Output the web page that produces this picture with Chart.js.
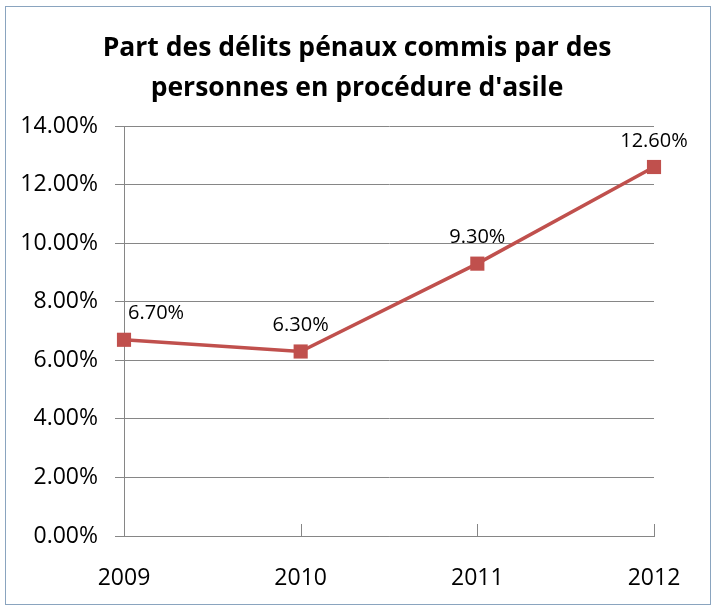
<!DOCTYPE html>
<html>
<head>
<meta charset="utf-8">
<script src="https://cdn.jsdelivr.net/npm/chart.js@4/dist/chart.umd.min.js"></script>
<style>
  html, body { margin: 0; padding: 0; background: #fff; }
  #wrap { position: relative; width: 716px; height: 610px; }
  #frame { position: absolute; left: 5px; top: 6px; width: 704px; height: 597px; border: 1px solid #8aa4bf; pointer-events: none; }
</style>
</head>
<body>
<div id="wrap">
  <canvas id="c" width="716" height="610"></canvas>
  <div id="frame"></div>
</div>
<script>
const years = ["2009", "2010", "2011", "2012"];
const shares = [6.7, 6.3, 9.3, 12.6];
const titleLines = ["Part des délits pénaux commis par des", "personnes en procédure d'asile"];

const FONT = "'Open Sans', 'Noto Sans', sans-serif";
const RED = "#c0504d";

// title centred on the whole frame, not on the padded box
const frameTitle = {
  id: "frameTitle",
  afterDraw(chart) {
    const ctx = chart.ctx;
    ctx.save();
    ctx.font = `bold 26.5px ${FONT}`;
    ctx.fillStyle = "#000";
    ctx.textAlign = "center";
    ctx.textBaseline = "middle";
    titleLines.forEach((line, i) => ctx.fillText(line, 357, 48 + i * 40));
    ctx.restore();
  }
};

// labels above each point, the first one nudged right like the original
const pointLabels = {
  id: "pointLabels",
  afterDatasetsDraw(chart) {
    const ctx = chart.ctx;
    const meta = chart.getDatasetMeta(0);
    ctx.save();
    ctx.font = `20px ${FONT}`;
    ctx.fillStyle = "#000";
    ctx.textBaseline = "middle";
    meta.data.forEach((pt, i) => {
      const txt = shares[i].toFixed(2) + "%";
      ctx.textAlign = i === 0 ? "left" : "center";
      const x = i === 0 ? pt.x + 4 : pt.x;
      ctx.fillText(txt, x, pt.y - 26);
    });
    ctx.restore();
  }
};

const xTicksUp = {
  id: "xTicksUp",
  afterDraw(chart) {
    const ctx = chart.ctx;
    const xs = chart.scales.x;
    const bottom = chart.chartArea.bottom;
    ctx.save();
    ctx.strokeStyle = "#868686";
    ctx.lineWidth = 1;
    years.forEach((y, i) => {
      if (i === 0) return;
      const x = Math.round(xs.getPixelForValue(i)) + 0.5;
      ctx.beginPath();
      ctx.moveTo(x, bottom - 12);
      ctx.lineTo(x, bottom);
      ctx.stroke();
    });
    ctx.restore();
  }
};

new Chart(document.getElementById("c"), {
  type: "line",
  data: {
    labels: years,
    datasets: [{
      data: shares,
      borderColor: RED,
      backgroundColor: RED,
      borderWidth: 3.5,
      pointStyle: "rect",
      pointRadius: 10,
      pointBorderWidth: 0,
      tension: 0
    }]
  },
  options: {
    responsive: false,
    animation: false,
    layout: { padding: { left: 0, right: 62, top: 126, bottom: 0 } },
    plugins: {
      legend: { display: false },
      tooltip: { enabled: false },
      title: { display: false }
    },
    scales: {
      x: {
        offset: false,
        grid: { display: false, drawOnChartArea: false },
        border: { display: true, color: "#868686", width: 1 },
        ticks: { color: "#000", font: { family: FONT, size: 23 }, padding: 21, maxRotation: 0 },
        afterFit(scale) { scale.height = 74; }
      },
      y: {
        min: 0,
        max: 14,
        ticks: {
          stepSize: 2,
          color: "#000",
          font: { family: FONT, size: 23 },
          padding: 17,
          callback: (v) => v.toFixed(2) + "%"
        },
        grid: { color: "#868686", lineWidth: 1, tickLength: 9 },
        border: { display: true, color: "#868686", width: 1 },
        afterFit(scale) { scale.width = 124; }
      }
    }
  },
  plugins: [pointLabels, xTicksUp, frameTitle]
});
</script>
</body>
</html>
